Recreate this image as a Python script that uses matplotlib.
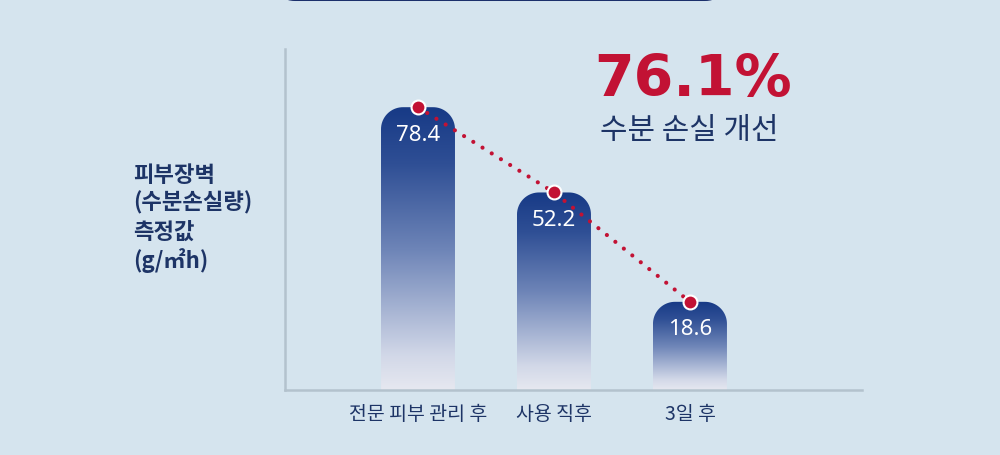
import numpy as np
import matplotlib
matplotlib.use('Agg')
import matplotlib.pyplot as plt
from matplotlib.colors import LinearSegmentedColormap
from matplotlib.path import Path
from matplotlib.patches import FancyBboxPatch

plt.rcParams['font.family'] = ['Noto Sans CJK KR', 'DejaVu Sans']

# data
categories = ['전문 피부 관리 후', '사용 직후', '3일 후']
values = [78.4, 52.2, 18.6]
value_labels = ['78.4', '52.2', '18.6']
ylabel_lines = ['피부장벽', '(수분손실량)', '측정값', '(g/㎡h)']
headline = '76.1%'
subline = '수분 손실 개선'

bg = '#d5e4ee'
navy = '#1d3466'
red = '#c21234'
base = -8.5   # visual baseline of the bars

fig = plt.figure(figsize=(10, 4.56), dpi=100)
fig.patch.set_facecolor(bg)

# dark banner peeking in at the top
fig.patches.append(FancyBboxPatch((0.285, 0.9956), 0.43, 0.1, boxstyle='round,pad=0,rounding_size=0.01',
                                  transform=fig.transFigure, facecolor='#1b2f6b', edgecolor='none'))

ax = fig.add_axes([0.285, 0.1425, 0.577, 0.748])
ax.set_facecolor(bg)
ax.set_xlim(-0.978, 3.265)
ax.set_ylim(base, 96.3)

x = np.arange(len(values))
width = 0.544

cmap = LinearSegmentedColormap.from_list('bar', [(0, '#e6e8f0'), (0.12, '#d2d8e8'),
                                                 (0.5, '#6d84b7'), (0.8, '#2f4f95'), (1, '#173a86')])
grad = np.linspace(0, 1, 256).reshape(-1, 1)

# px -> data scale for rounded corners
px_x = 136.0
px_y = 341.0 / (96.3 - base)
r = 22

bars = ax.bar(x, np.array(values) - base, width, bottom=base, color='none', edgecolor='none')
for b in bars:
    x0, y0 = b.get_x(), b.get_y()
    x1, y1 = x0 + b.get_width(), y0 + b.get_height()
    rx, ry = r / px_x, r / px_y
    t = np.linspace(np.pi, np.pi / 2, 20)
    left = np.column_stack([x0 + rx + rx * np.cos(t), y1 - ry + ry * np.sin(t)])
    t2 = np.linspace(np.pi / 2, 0, 20)
    right = np.column_stack([x1 - rx + rx * np.cos(t2), y1 - ry + ry * np.sin(t2)])
    verts = np.vstack([[x0, y0], left, right, [x1, y0], [x0, y0]])
    clip = Path(verts)
    im = ax.imshow(grad, extent=[x0, x1, y0, y1], origin='lower', aspect='auto', cmap=cmap, zorder=2)
    im.set_clip_path(clip, ax.transData)

ax.set_xlim(-0.978, 3.265)
ax.set_ylim(base, 96.3)

# value labels
for xi, v, lab in zip(x, values, value_labels):
    ax.annotate(lab, (xi, v), xytext=(0, -27), textcoords='offset pixels', ha='center', va='center',
                color='white', fontsize=16, family=['Noto Sans', 'DejaVu Sans'], zorder=5)

# dotted connector + dots
ax.plot(x, values, linestyle=(0, (0.01, 2.6)), lw=3.0, color=red, dash_capstyle='round', zorder=4)
ax.plot(x, values, 'o', ms=10, color=red, mec='white', mew=1.5, zorder=6, linestyle='none')

# axes
for s in ['top', 'right']:
    ax.spines[s].set_visible(False)
for s in ['left', 'bottom']:
    ax.spines[s].set_color('#b3c2cd')
    ax.spines[s].set_linewidth(1.8)
ax.set_yticks([])
ax.set_xticks(x)
ax.set_xticklabels(categories, fontsize=14, color=navy)
ax.tick_params(axis='x', length=0, pad=9)

# y label
ys = [175, 203, 232, 261]
for line, yy in zip(ylabel_lines, ys):
    fig.text(0.133, 1 - yy / 456, line, ha='left', va='center', fontsize=16, color=navy, fontweight='bold')

# headline
fig.text(0.693, 1 - 81 / 456, headline, ha='center', va='center', fontsize=41, color=red,
         family=['DejaVu Sans'], fontweight='bold')
fig.text(0.689, 1 - 131 / 456, subline, ha='center', va='center', fontsize=21.5, color=navy)

fig.savefig('out.png', dpi=100, facecolor=bg)
